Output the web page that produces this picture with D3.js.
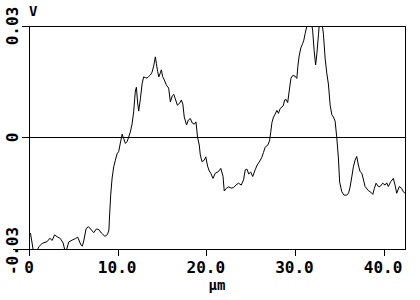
<!DOCTYPE html>
<html>
<head>
<meta charset="utf-8">
<script src="https://cdn.jsdelivr.net/npm/d3@7"></script>
<style>
  html, body { margin: 0; padding: 0; background: #fff; }
  svg { display: block; }
  text { font-family: "DejaVu Sans Mono", "Liberation Mono", monospace; font-weight: bold; fill: #000; }
</style>
</head>
<body>
<script>
// Position along profile (µm)
const positions = [0.11,0.45,0.79,1.05,1.43,1.99,2.29,2.56,2.82,3.12,3.49,3.80,4.00,4.17,4.43,4.81,5.18,5.44,5.80,5.97,
6.14,6.39,6.65,6.99,7.25,7.55,7.83,8.11,8.51,8.79,8.96,9.05,9.16,9.32,9.50,9.69,9.88,10.06,10.25,10.45,
10.63,10.82,11.01,11.19,11.38,11.57,11.75,11.94,12.06,12.20,12.32,12.51,12.70,12.88,13.07,13.26,13.44,13.63,13.83,14.01,
14.20,14.31,14.46,14.59,14.76,14.87,15.02,15.21,15.44,15.70,15.89,16.11,16.28,16.45,16.68,16.96,17.13,17.30,17.46,17.72,
17.92,18.14,18.37,18.59,18.78,18.96,19.15,19.27,19.46,19.72,19.89,20.09,20.28,20.45,20.70,20.96,21.30,21.58,21.83,21.97,
22.20,22.46,22.76,23.02,23.29,23.58,23.89,24.15,24.34,24.53,24.73,24.96,25.18,25.46,25.69,25.92,26.20,26.40,26.59,26.90,
27.08,27.23,27.35,27.53,27.72,27.91,28.09,28.28,28.62,28.79,28.96,29.13,29.30,29.49,29.71,29.97,30.16,30.28,30.42,30.61,
30.82,30.95,31.10,31.29,31.49,31.72,31.94,32.11,32.28,32.42,32.60,32.73,32.96,33.16,33.35,33.54,33.72,33.92,34.11,34.29,
34.48,34.67,34.85,34.99,35.23,35.49,35.80,36.00,36.17,36.36,36.54,36.73,36.92,37.10,37.30,37.49,37.63,37.86,38.23,38.50,
38.73,38.91,39.10,39.36,39.55,39.85,40.11,40.30,40.48,40.75,41.05,41.24,41.43,41.72,41.99,42.17,42.37];

// Signal (V)
const signal = [-0.0257,-0.0308,-0.0308,-0.0294,-0.0285,-0.0280,-0.0271,-0.0277,-0.0262,-0.0267,-0.0272,-0.0284,-0.0305,-0.0303,-0.0281,-0.0276,-0.0272,-0.0268,-0.0289,-0.0292,
-0.0276,-0.0245,-0.0240,-0.0249,-0.0256,-0.0246,-0.0248,-0.0257,-0.0266,-0.0261,-0.0249,-0.0203,-0.0155,-0.0109,-0.0079,-0.0061,-0.0044,-0.0038,-0.0015,0.0009,
-0.0003,-0.0016,-0.0011,0.0001,0.0015,0.0036,0.0069,0.0125,0.0135,0.0093,0.0071,0.0104,0.0144,0.0163,0.0161,0.0160,0.0164,0.0168,0.0176,0.0192,
0.0217,0.0200,0.0177,0.0163,0.0174,0.0182,0.0164,0.0155,0.0141,0.0133,0.0096,0.0112,0.0116,0.0104,0.0087,0.0093,0.0101,0.0090,0.0055,0.0034,
0.0047,0.0051,0.0039,0.0036,0.0042,0.0001,-0.0020,-0.0047,-0.0065,-0.0061,-0.0052,-0.0077,-0.0090,-0.0096,-0.0110,-0.0096,-0.0092,-0.0083,-0.0104,-0.0144,
-0.0137,-0.0133,-0.0136,-0.0135,-0.0128,-0.0123,-0.0128,-0.0114,-0.0087,-0.0085,-0.0098,-0.0093,-0.0105,-0.0087,-0.0074,-0.0066,-0.0054,-0.0040,-0.0026,-0.0020,
-0.0009,0.0017,0.0040,0.0055,0.0063,0.0073,0.0065,0.0078,0.0085,0.0101,0.0102,0.0094,0.0125,0.0159,0.0167,0.0165,0.0159,0.0192,0.0219,0.0241,
0.0253,0.0262,0.0280,0.0299,0.0322,0.0322,0.0289,0.0235,0.0195,0.0225,0.0276,0.0316,0.0316,0.0278,0.0214,0.0173,0.0144,0.0087,0.0061,0.0055,
0.0044,-0.0001,-0.0055,-0.0120,-0.0146,-0.0155,-0.0155,-0.0149,-0.0133,-0.0106,-0.0079,-0.0061,-0.0051,-0.0074,-0.0092,-0.0096,-0.0109,-0.0132,-0.0143,-0.0147,
-0.0153,-0.0137,-0.0123,-0.0132,-0.0132,-0.0123,-0.0128,-0.0122,-0.0132,-0.0119,-0.0110,-0.0128,-0.0150,-0.0132,-0.0137,-0.0146,-0.0150];

const xTicks = [0, 10, 20, 30, 40];
const xTickLabels = ["0", "10.0", "20.0", "30.0", "40.0"];
const yTicks = [-0.03, 0, 0.03];
const yTickLabels = ["-0.03", "0", "0.03"];
const xDomain = [0, 42.42];
const yDomain = [-0.03, 0.03];
const xUnit = "μm";
const yUnit = "V";

(function () {
const W = 420, H = 300;
const svg = d3.select("body").append("svg").attr("width", W).attr("height", H);

const x = d3.scaleLinear().domain(xDomain).range([29.5, 405.5]);
const y = d3.scaleLinear().domain(yDomain).range([249, 26]);
const px = v => Math.floor(v) + 0.5;

const pLeft = px(x(xDomain[0])), pRight = px(x(xDomain[1]));
const pTop = px(y(yDomain[1])), pBottom = px(y(yDomain[0]));

svg.append("defs").append("clipPath").attr("id", "clip")
  .append("rect").attr("x", pLeft).attr("y", pTop - 0.5)
  .attr("width", pRight - pLeft).attr("height", pBottom - pTop + 1);

const g = svg.append("g").attr("shape-rendering", "crispEdges").attr("stroke", "#000").attr("stroke-width", 1);

// y ticks / horizontal lines (bottom, zero, top)
yTicks.forEach((t, i) => {
  const yy = px(y(t));
  const x0 = (i === 0) ? 13 : 22;
  g.append("line").attr("x1", x0).attr("x2", pRight).attr("y1", yy).attr("y2", yy);
});
// left axis (extends below as 0 tick)
g.append("line").attr("x1", pLeft).attr("x2", pLeft).attr("y1", pTop).attr("y2", pBottom + 6);
// right border
g.append("line").attr("x1", pRight).attr("x2", pRight).attr("y1", pTop).attr("y2", pBottom);
// x ticks
xTicks.slice(1).forEach(t => {
  const xx = px(x(t));
  g.append("line").attr("x1", xx).attr("x2", xx).attr("y1", pBottom).attr("y2", pBottom + 6);
});

// x tick labels
svg.append("g").selectAll("text").data(xTicks).join("text")
  .attr("x", (d, i) => i === 0 ? x(d) - 0.5 : x(d) - 1)
  .attr("y", 273)
  .attr("text-anchor", "middle")
  .attr("font-size", 16)
  .text((d, i) => xTickLabels[i]);

// y tick labels (rotated)
svg.append("g").selectAll("text").data(yTicks).join("text")
  .attr("transform", (d, i) => `translate(17.5,${y(d) + (i === 0 ? 2 : 0)}) rotate(-90)`)
  .attr("text-anchor", "middle")
  .attr("font-size", 16)
  .text((d, i) => yTickLabels[i]);

// unit labels
svg.append("text").attr("x", 29).attr("y", 16).attr("font-size", 14).text(yUnit);
svg.append("text").attr("x", 217).attr("y", 290).attr("text-anchor", "middle").attr("font-size", 14).text(xUnit);

// profile line
const line = d3.line().x((d, i) => x(positions[i])).y(d => y(d));
svg.append("path")
  .datum(signal)
  .attr("clip-path", "url(#clip)")
  .attr("fill", "none")
  .attr("stroke", "#000")
  .attr("stroke-width", 1)
  .attr("d", line);
})();
</script>
</body>
</html>
